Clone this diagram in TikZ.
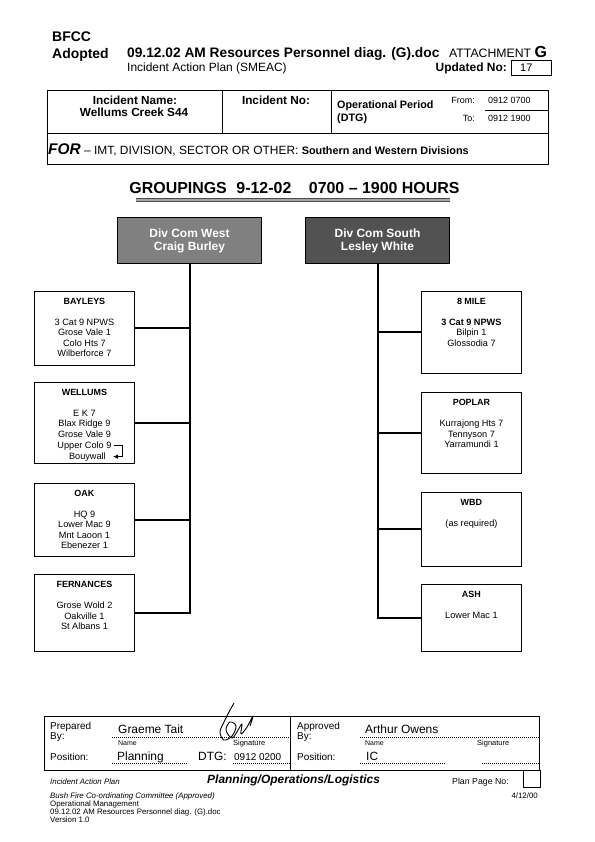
\documentclass[tikz,border=0pt]{standalone}
\usepackage{fontspec}
\setmainfont{Liberation Sans}
\usetikzlibrary{positioning,arrows.meta}
\newcommand{\schrift}[2]{\fontsize{#1}{#2}\selectfont}

\begin{document}
\begin{tikzpicture}[x=1bp,y=-1bp,
    txt/.style={inner sep=0pt, anchor=base west},
    rahmen/.style={line width=0.9bp},
    punkt/.style={line width=0.6bp, dash pattern=on 1bp off 1bp},
    gruppe/.style={draw, line width=0.9bp, minimum width=100bp, anchor=north west, inner sep=0pt},
    titel/.style={inner sep=0pt, font=\bfseries\schrift{9}{10.4}},
    liste/.style={inner sep=0pt, align=center, font=\schrift{9.2}{10.4}},
    divcom/.style={draw, line width=1bp, minimum width=144bp, minimum height=46bp,
        anchor=north west, text=white, align=center, font=\bfseries\schrift{12}{13}},
    leitung/.style={line width=2bp},
    pfeil/.style={line width=0.8bp, -{Latex[length=5bp,width=4.5bp]}}]
    \useasboundingbox (0,0) rectangle (595,842);
    % Kopfzeile:
    \node[txt, font=\bfseries\schrift{14}{16}] (bfcc) at (52,41) {BFCC};
    \node[txt, font=\bfseries\schrift{14}{16}] (adopted) at (52,58) {Adopted};
    \node[txt, font=\bfseries\schrift{13.8}{16}] (docname) at (127,57)
        {09.12.02 AM Resources Personnel diag. (G).doc};
    \node[txt, font=\schrift{12.3}{14}] (attach) at (449,57) {ATTACHMENT};
    \node[txt, font=\bfseries\schrift{16}{18}, xshift=3bp] (attg) at (attach.base east) {G};
    \node[txt, font=\schrift{12}{14}] (iap) at (127,71) {Incident Action Plan (SMEAC)};
    \node[txt, anchor=base east, font=\bfseries\schrift{12}{14}] (updno) at (507,71) {Updated No:};
    \draw[rahmen] (511,60) rectangle (551,75);
    \node[txt, font=\schrift{11}{13}] (updval) at (520,71) {17};
    % Tabelle oben:
    \draw[rahmen] (47,90) rectangle (548,164);
    \draw[rahmen] (47,133) -- (548,133);
    \draw[rahmen] (222,90) -- (222,133);
    \draw[rahmen] (331,90) -- (331,133);
    \draw[line width=0.5bp] (485,110) -- (548,110);
    \node[txt, anchor=base, font=\bfseries\schrift{11.8}{13}] (incname) at (135,104) {Incident Name:};
    \node[txt, anchor=base, font=\bfseries\schrift{11.8}{13}] (increek) at (134,116) {Wellums Creek S44};
    \node[txt, anchor=base, font=\bfseries\schrift{11.8}{13}] (incno) at (276,104) {Incident No:};
    \node[txt, font=\bfseries\schrift{10.8}{12}] (opper) at (337,108) {Operational Period};
    \node[txt, font=\bfseries\schrift{10.8}{12}] (opdtg) at (337,121) {(DTG)};
    \node[txt, anchor=base east, font=\schrift{9}{10}] (from) at (475,103.2) {From:};
    \node[txt, font=\schrift{9}{10}] (fromval) at (488,103.2) {0912 0700};
    \node[txt, anchor=base east, font=\schrift{9}{10}] (to) at (475,121.2) {To:};
    \node[txt, font=\schrift{9}{10}] (toval) at (488,121.2) {0912 1900};
    \node[txt, font=\schrift{12}{14}] (fuer) at (48,154)
        {{\bfseries\itshape\schrift{15.5}{16}FOR} -- IMT, DIVISION, SECTOR OR OTHER:
         {\bfseries\schrift{10.9}{12}Southern and Western Divisions}};
    % Ueberschrift:
    \node[txt, anchor=base, font=\bfseries\schrift{16}{18}] (grp) at (294.5,193)
        {GROUPINGS\hspace{0.6em}9-12-02\hspace{1.1em}0700 -- 1900 HOURS};
    \draw[black!70, line width=0.9bp, double=black!35, double distance=1.3bp] (136,200) -- (450,200);
    % Div Com:
    \node[divcom, fill=black!50] (west) at (117,217) {Div Com West\\Craig Burley};
    \node[divcom, fill=black!68] (south) at (305,217) {Div Com South\\Lesley White};
    % Gruppen links:
    \node[gruppe, minimum height=74bp] (bayleys) at (34,291) {};
    \node[titel, below=7bp of bayleys.north] (bayleys-t) {BAYLEYS};
    \node[liste, below=28bp of bayleys.north] (bayleys-l)
        {3 Cat 9 NPWS\\Grose Vale 1\\Colo Hts 7\\Wilberforce 7};
    \node[gruppe, minimum height=81bp] (wellums) at (34,382) {};
    \node[titel, below=7bp of wellums.north] (wellums-t) {WELLUMS};
    \node[liste, below=28bp of wellums.north] (wellums-l)
        {E K 7\\Blax Ridge 9\\Grose Vale 9};
    \node[liste, below=3.8bp of wellums-l] (upcolo) {Upper Colo 9};
    \node[liste, below=1.9bp of upcolo, xshift=3bp] (bouy) {Bouywall};
    \draw[pfeil] ([xshift=2bp]upcolo.east) -- ++(9bp,0) |- ([xshift=7bp]bouy.east);
    \node[gruppe, minimum height=73bp] (oak) at (34,483) {};
    \node[titel, below=7bp of oak.north] (oak-t) {OAK};
    \node[liste, below=28bp of oak.north] (oak-l)
        {HQ 9\\Lower Mac 9\\Mnt Laoon 1\\Ebenezer 1};
    \node[gruppe, minimum height=77bp] (fernances) at (34,574) {};
    \node[titel, below=7bp of fernances.north] (fernances-t) {FERNANCES};
    \node[liste, below=28bp of fernances.north] (fernances-l)
        {Grose Wold 2\\Oakville 1\\St Albans 1};
    % Gruppen rechts:
    \node[gruppe, minimum height=82bp] (mile) at (421,291) {};
    \node[titel, below=7bp of mile.north] (mile-t) {8 MILE};
    \node[liste, below=28bp of mile.north] (mile-l)
        {\textbf{3 Cat 9 NPWS}\\Bilpin 1\\Glossodia 7};
    \node[gruppe, minimum height=81bp] (poplar) at (421,392) {};
    \node[titel, below=7bp of poplar.north] (poplar-t) {POPLAR};
    \node[liste, below=28bp of poplar.north] (poplar-l)
        {Kurrajong Hts 7\\Tennyson 7\\Yarramundi 1};
    \node[gruppe, minimum height=74bp] (wbd) at (421,492) {};
    \node[titel, below=7bp of wbd.north] (wbd-t) {WBD};
    \node[liste, below=28bp of wbd.north] (wbd-l) {(as required)};
    \node[gruppe, minimum height=67bp] (ash) at (421,584) {};
    \node[titel, below=7bp of ash.north] (ash-t) {ASH};
    \node[liste, below=28bp of ash.north] (ash-l) {Lower Mac 1};
    % Leitungen:
    \draw[leitung] (west.south) |- (fernances.east);
    \foreach \g in {bayleys,wellums,oak}
        \draw[leitung] (\g.east) -- (\g.east -| west.south);
    \draw[leitung] (south.south) |- (ash.west);
    \foreach \g in {mile,poplar,wbd}
        \draw[leitung] (\g.west) -- (\g.west -| south.south);
    % Fusszeile Tabelle:
    \draw[rahmen] (44,716) rectangle (539,770);
    \draw[rahmen] (290,716) -- (290,770);
    \draw[punkt] (112,737.5) -- (290,737.5);
    \draw[punkt] (112,763) -- (188,763);
    \draw[punkt] (233,763) -- (290,763);
    \draw[punkt] (360,737.5) -- (539,737.5);
    \draw[punkt] (360,763) -- (445,763);
    \draw[punkt] (482,763) -- (539,763);
    \node[txt, font=\schrift{10}{12}] (prep) at (50,729) {Prepared};
    \node[txt, font=\schrift{10}{12}] (prepby) at (50,739) {By:};
    \node[txt, font=\schrift{12}{14}] (prepname) at (118,733) {Graeme Tait};
    \node[txt, font=\schrift{7}{8}] (prepn) at (118,745) {Name};
    \node[txt, font=\schrift{7.5}{8}] (preps) at (233,745) {Signature};
    \node[txt, font=\schrift{10}{12}] (preppos) at (50,760) {Position:};
    \node[txt, font=\schrift{12}{14}] (prepposv) at (117,760) {Planning};
    \node[txt, font=\schrift{12}{14}] (prepdtg) at (198,760) {DTG:};
    \node[txt, font=\schrift{10}{12}] (prepdtgv) at (234,760) {0912 0200};
    \node[txt, font=\schrift{10}{12}] (appr) at (297,729) {Approved};
    \node[txt, font=\schrift{10}{12}] (apprby) at (297,739) {By:};
    \node[txt, font=\schrift{12}{14}] (apprname) at (365,733) {Arthur Owens};
    \node[txt, font=\schrift{7}{8}] (apprn) at (365,745) {Name};
    \node[txt, font=\schrift{7.5}{8}] (apprs) at (477,745) {Signature};
    \node[txt, font=\schrift{10}{12}] (apprpos) at (297,760) {Position:};
    \node[txt, font=\schrift{12}{14}] (apprposv) at (366,760) {IC};
    % Unterschrift:
    \draw[line width=0.9bp, line join=round] plot[smooth, tension=0.6] coordinates
        {(234,703) (229,712) (224,722) (220,732) (224,740) (232,736) (236,726)
         (230,722) (226,730) (232,738) (238,730) (242,724) (241,734) (247,727)
         (253,716) (250,726)};
    % Fusszeile unten:
    \node[txt, font=\itshape\schrift{7.9}{9}] (fiap) at (50,784) {Incident Action Plan};
    \node[txt, font=\bfseries\itshape\schrift{12}{14}] (fpol) at (207,783) {Planning/Operations/Logistics};
    \node[txt, font=\schrift{8.8}{10}] (fppn) at (452,784) {Plan Page No:};
    \draw[rahmen] (523,770) rectangle (540,787);
    \node[txt, anchor=base east, font=\schrift{7.9}{9}] (fdate) at (538,798) {4/12/00};
    \node[inner sep=0pt, anchor=north west, align=left, font=\schrift{7.9}{8.2}] (fver) at (50,792.3)
        {\textit{Bush Fire Co-ordinating Committee (Approved)}\\Operational Management\\
         09.12.02 AM Resources Personnel diag. (G).doc\\Version 1.0};
\end{tikzpicture}
\end{document}
